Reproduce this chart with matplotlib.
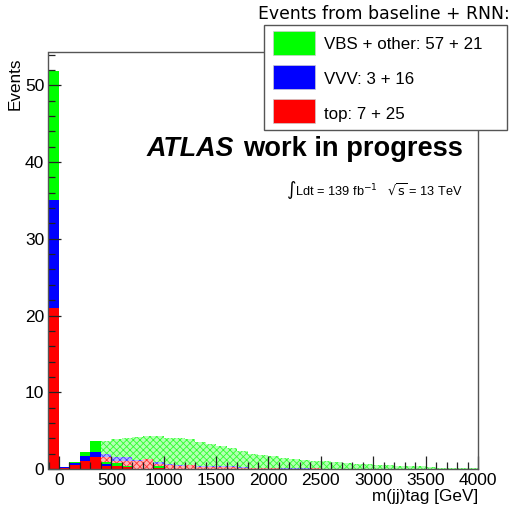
import numpy as np
import matplotlib
matplotlib.use("Agg")
import matplotlib.pyplot as plt
from matplotlib.patches import Rectangle

plt.rcParams['font.family'] = ['Liberation Sans', 'DejaVu Sans']
plt.rcParams['hatch.linewidth'] = 0.6

W, H = 510, 507

# 100 GeV bins from -100 to 4000 GeV (first bin = no tag jets)
bin_edges = list(range(-100, 4001, 100))

# RNN selection (solid fill), per bin
rnn_top = [21.0, 0.1, 0.5, 1.1, 1.5, 0.45, 0.45, 0.26, 0.0, 0.0, 0.17] + [0.0] * 30
rnn_vvv = [14.0, 0.1, 0.25, 0.6, 0.7, 0.2, 0.0, 0.0, 0.0, 0.0, 0.0] + [0.0] * 30
rnn_vbs = [16.8, 0.0, 0.2, 0.55, 1.5, 0.3, 0.33, 0.17, 0.0, 0.0, 0.17] + [0.0] * 30

# baseline selection (hatched), per bin
base_top = [0.0, 0.0, 0.0, 0.0, 0.0,
            1.5, 1.1, 1.1, 1.0, 1.3, 0.7, 0.56, 0.43, 0.56, 0.26, 0.26,
            0.3, 0.25, 0.17, 0.1, 0.1, 0.1, 0.05, 0.05, 0.05, 0.1, 0.05,
            0.0, 0.0, 0.0, 0.0, 0.0, 0.0, 0.0, 0.0, 0.0, 0.0, 0.0, 0.0, 0.0, 0.0]
base_vvv = [0.0, 0.0, 0.0, 0.0, 0.0,
            0.45, 0.45, 0.4, 0.2, 0.05, 0.15, 0.05, 0.13, 0.0, 0.17, 0.17,
            0.1, 0.1, 0.05, 0.05, 0.0, 0.05, 0.1, 0.1, 0.05, 0.0, 0.0,
            0.0, 0.0, 0.0, 0.0, 0.0, 0.0, 0.0, 0.0, 0.0, 0.0, 0.0, 0.0, 0.0, 0.0]
base_vbs = [0.0, 0.0, 0.0, 0.0, 0.0,
            1.75, 2.4, 2.6, 3.0, 2.95, 3.45, 3.49, 3.44, 3.39, 3.12, 2.87,
            2.6, 2.4, 2.13, 1.8, 1.7, 1.55, 1.3, 1.2, 1.1, 1.0, 1.05,
            0.87, 0.83, 0.7, 0.65, 0.56, 0.48, 0.44, 0.4, 0.35, 0.22, 0.18, 0.13, 0.13, 0.09]

labels = ['VBS + other: 57 + 21', 'VVV: 3 + 16', 'top: 7 + 25']
colors = ['#00ff00', '#0000ff', '#ff0000']
light = {'#00ff00': '#b4ffb4', '#0000ff': '#b4b4ff', '#ff0000': '#ffb4b4'}
hatch_col = {'#00ff00': '#30ff30', '#0000ff': '#4040ff', '#ff0000': '#ff3030'}

fig = plt.figure(figsize=(W / 100, H / 100), dpi=100)
ax = fig.add_axes([48.5 / W, 1 - 469 / H, (478 - 48.5) / W, (469 - 51.5) / H])


def draw_stack(parts, hatched):
    bottom = np.zeros(len(bin_edges) - 1)
    for vals, col in parts:
        top = bottom + np.array(vals)
        if hatched:
            ax.stairs(top, bin_edges, baseline=bottom, fill=True, facecolor=light[col],
                      edgecolor=hatch_col[col], hatch='xxxxx', linewidth=0, zorder=1)
        else:
            ax.stairs(top, bin_edges, baseline=bottom, fill=True, color=col,
                      linewidth=0, zorder=1.2)
        bottom = top


# stacks: top at the bottom, then VVV, then VBS
draw_stack([(base_top, '#ff0000'), (base_vvv, '#0000ff'), (base_vbs, '#00ff00')], True)
draw_stack([(rnn_top, '#ff0000'), (rnn_vvv, '#0000ff'), (rnn_vbs, '#00ff00')], False)

ax.set_xlim(-100, 4000)
ax.set_ylim(0, 54.4)
ax.set_xticks(range(0, 4001, 500))
ax.set_xticks(range(-100, 4001, 100), minor=True)
ax.set_yticks(range(0, 51, 10))
ax.set_yticks(range(0, 55, 2), minor=True)
ax.tick_params(which='both', direction='in', top=False, right=False,
               colors='#222222', labelcolor='black', labelsize=12.5, width=0.9)
ax.tick_params(which='major', length=9.4, pad=3)
ax.tick_params(which='minor', length=4.7)
for s in ax.spines.values():
    s.set_color('#555555')
    s.set_linewidth(1.0)


def px(x, y):
    return x / W, 1 - y / H


fig.text(*px(15, 57), 'Events', rotation=90, ha='center', va='top', fontsize=12.3)
fig.text(*px(478, 489), 'm(jj)tag [GeV]', ha='right', va='top', fontsize=12.3)

# ATLAS label
t_atlas = fig.text(*px(147, 156), 'ATLAS', fontsize=19.4, fontweight='bold',
                   fontstyle='italic', va='baseline')
fig.canvas.draw()
bb = t_atlas.get_window_extent(renderer=fig.canvas.get_renderer())
fig.text(bb.x1 / W + 9 / W, 1 - 156 / H, 'work in progress', fontsize=19.6,
         fontweight='bold', va='baseline')
fig.text(*px(286, 195), r'$\int$Ldt = 139 fb$^{-1}$   $\sqrt{\mathrm{s}}$ = 13 TeV',
         fontsize=9.2, va='baseline')

# legend
fig.text(*px(258, 19), 'Events from baseline + RNN:', fontsize=12.4,
         family='DejaVu Sans', va='baseline')
x0, y0 = px(264, 130)
x1, y1 = px(507, 25)
fig.add_artist(Rectangle((x0, y0), x1 - x0, y1 - y0, transform=fig.transFigure,
                         facecolor='white', edgecolor='#555555', linewidth=1.0, zorder=3))
box_tops = [30.7, 65.0, 99.3]
baselines = [49.3, 84.3, 119.0]
for lab, col, bt, bl in zip(labels, colors, box_tops, baselines):
    sx0, sy0 = px(273, bt + 24)
    sx1, sy1 = px(315, bt)
    fig.add_artist(Rectangle((sx0, sy0), sx1 - sx0, sy1 - sy0, transform=fig.transFigure,
                             facecolor=col, edgecolor='#cccccc', linewidth=0.5, zorder=4))
    fig.text(*px(324, bl), lab, fontsize=12.2, va='baseline', zorder=5)

fig.savefig('out.png', dpi=100)
